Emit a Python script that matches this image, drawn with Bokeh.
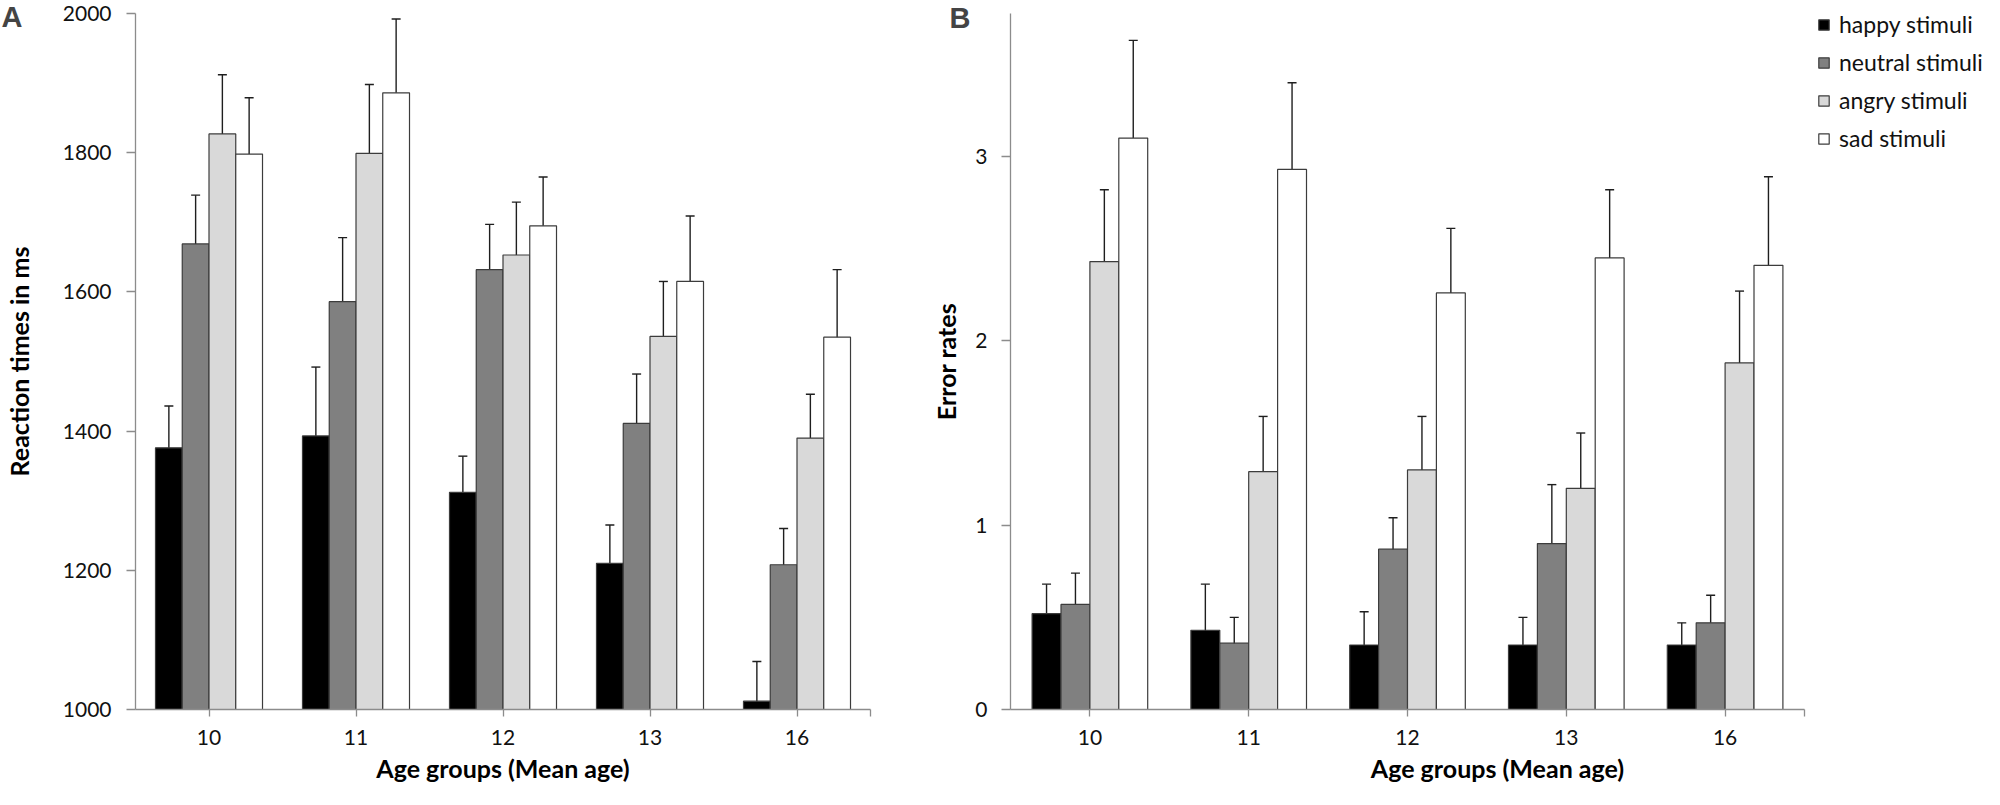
from bokeh.plotting import figure
from bokeh.models import (ColumnDataSource, Range1d, FixedTicker,
                          Whisker, TeeHead, Legend, LegendItem, Label)
from bokeh.transform import dodge
from bokeh.layouts import row
from bokeh.embed import file_html
from bokeh.resources import INLINE

# ---------------- data ----------------
ages = ["10", "11", "12", "13", "16"]
series = ["happy stimuli", "neutral stimuli", "angry stimuli", "sad stimuli"]
keys = ["happy", "neutral", "angry", "sad"]
colors = ["#000000", "#808080", "#d9d9d9", "#ffffff"]

# Panel A: reaction times (ms) and error-bar half widths
rt_happy = [1376, 1393, 1312, 1210, 1012]
rt_neutral = [1669, 1586, 1632, 1411, 1208]
rt_angry = [1827, 1799, 1653, 1536, 1390]
rt_sad = [1798, 1886, 1695, 1615, 1535]
rt_happy_err = [60, 99, 52, 55, 57]
rt_neutral_err = [70, 92, 65, 71, 52]
rt_angry_err = [85, 99, 76, 79, 63]
rt_sad_err = [81, 106, 70, 94, 97]

# Panel B: error rates and error-bar half widths
er_happy = [0.52, 0.43, 0.35, 0.35, 0.35]
er_neutral = [0.57, 0.36, 0.87, 0.90, 0.47]
er_angry = [2.43, 1.29, 1.30, 1.20, 1.88]
er_sad = [3.10, 2.93, 2.26, 2.45, 2.41]
er_happy_err = [0.16, 0.25, 0.18, 0.15, 0.12]
er_neutral_err = [0.17, 0.14, 0.17, 0.32, 0.15]
er_angry_err = [0.39, 0.30, 0.29, 0.30, 0.39]
er_sad_err = [0.53, 0.47, 0.35, 0.37, 0.48]

rt_ticks = [1000, 1200, 1400, 1600, 1800, 2000]
er_ticks = [0, 1, 2, 3]

FONT = "Lato"
BAR_W = 0.182
EDGE = "#3c3c3c"
ERR = "#1e1e1e"
AXIS = "#8c8c8c"

n_groups = len(ages)
centers = [i + 0.5 for i in range(n_groups)]   # one category per unit


def make_source(vals, errs):
    d = {"xc": centers, "age": ages}
    for k, v, e in zip(keys, vals, errs):
        d[k] = v
        d[k + "_lo"] = [a - b for a, b in zip(v, e)]
        d[k + "_hi"] = [a + b for a, b in zip(v, e)]
    return ColumnDataSource(d)


def style(p, ylabel, ticks, label_standoff, title_standoff):
    p.xgrid.visible = False
    p.ygrid.visible = False
    p.outline_line_color = None
    p.background_fill_color = "white"
    p.border_fill_color = "white"
    p.yaxis.ticker = FixedTicker(ticks=ticks)
    # category axis: ticks at group centres plus one at the axis end
    p.xaxis.ticker = FixedTicker(ticks=centers + [n_groups])
    overrides = {c: a for c, a in zip(centers, ages)}
    overrides[n_groups] = ""
    p.xaxis.major_label_overrides = overrides
    p.xaxis.bounds = (0, n_groups)
    for ax in (p.xaxis[0], p.yaxis[0]):
        ax.axis_line_color = AXIS
        ax.axis_line_width = 1.3
        ax.major_tick_line_color = AXIS
        ax.major_tick_line_width = 1.3
        ax.major_tick_in = 0
        ax.minor_tick_line_color = None
        ax.major_label_text_font = FONT
        ax.major_label_text_font_size = "21px"
        ax.major_label_text_color = "#111111"
        ax.axis_label_text_font = FONT
        ax.axis_label_text_font_style = "bold"
        ax.axis_label_text_font_size = "25px"
        ax.axis_label_text_color = "#000000"
    p.yaxis.major_tick_out = 9
    p.yaxis.major_label_standoff = label_standoff
    p.yaxis.axis_label = ylabel
    p.yaxis.axis_label_standoff = title_standoff
    p.xaxis.major_tick_out = 7
    p.xaxis.major_label_standoff = 13
    p.xaxis.axis_label = "Age groups (Mean age)"
    p.xaxis.axis_label_standoff = 5


def draw(p, src, base):
    rends = []
    for i, (k, c) in enumerate(zip(keys, colors)):
        off = (i - 1.5) * BAR_W
        r = p.vbar(x=dodge("xc", off), top=k, bottom=base,
                   width=BAR_W, source=src, fill_color=c, line_color=EDGE,
                   line_width=1.2)
        rends.append(r)
        w = Whisker(source=src, base=dodge("xc", off),
                    lower=k + "_lo", upper=k + "_hi", line_color=ERR,
                    line_width=1.4,
                    upper_head=TeeHead(size=9, line_color=ERR, line_width=1.4),
                    lower_head=TeeHead(size=9, line_color=ERR, line_width=1.4))
        p.add_layout(w)
    return rends


# ---------------- panel A ----------------
srcA = make_source([rt_happy, rt_neutral, rt_angry, rt_sad],
                   [rt_happy_err, rt_neutral_err, rt_angry_err, rt_sad_err])
pA = figure(width=900, height=789, x_range=Range1d(0, n_groups),
            y_range=Range1d(1000, 2000), output_backend="svg",
            toolbar_location=None, min_border_left=128, min_border_right=30,
            min_border_top=13, min_border_bottom=80)
style(pA, "Reaction times in ms", rt_ticks, 15, 26)
draw(pA, srcA, 1000)
# panel letter, placed in the right side panel (not clipped by the frame)
pA.add_layout(Label(x=-869, y=709, x_units="screen", y_units="screen",
                    text="A", text_font="Liberation Sans",
                    text_font_style="bold", text_font_size="29px",
                    text_baseline="top", text_align="left"), "right")

# ---------------- panel B ----------------
# the frame runs on to the right edge so that the legend can sit in it;
# the x axis itself is bounded to the five age groups
srcB = make_source([er_happy, er_neutral, er_angry, er_sad],
                   [er_happy_err, er_neutral_err, er_angry_err, er_sad_err])
pB = figure(width=1084, height=789, x_range=Range1d(0, n_groups * 974 / 794),
            y_range=Range1d(0, 3.776), output_backend="svg",
            toolbar_location=None, min_border_left=110, min_border_right=0,
            min_border_top=1, min_border_bottom=80)
style(pB, "Error rates", er_ticks, 14, 11)
rendsB = draw(pB, srcB, 0)
pB.add_layout(Label(x=42, y=708, x_units="screen", y_units="screen",
                    text="B", text_font="Liberation Sans",
                    text_font_style="bold", text_font_size="29px",
                    text_baseline="top", text_align="left"), "left")

legend = Legend(items=[LegendItem(label=s, renderers=[r]) for s, r in zip(series, rendsB)],
                location=(807, 557), padding=0, spacing=10, margin=0,
                glyph_width=13, glyph_height=13, label_height=20,
                label_standoff=9, label_text_font=FONT,
                label_text_font_size="23px", label_text_color="#111111",
                border_line_color=None, background_fill_alpha=0)
pB.add_layout(legend)

layout = row(pA, pB)
open("out.html", "w").write(file_html(layout, INLINE))
